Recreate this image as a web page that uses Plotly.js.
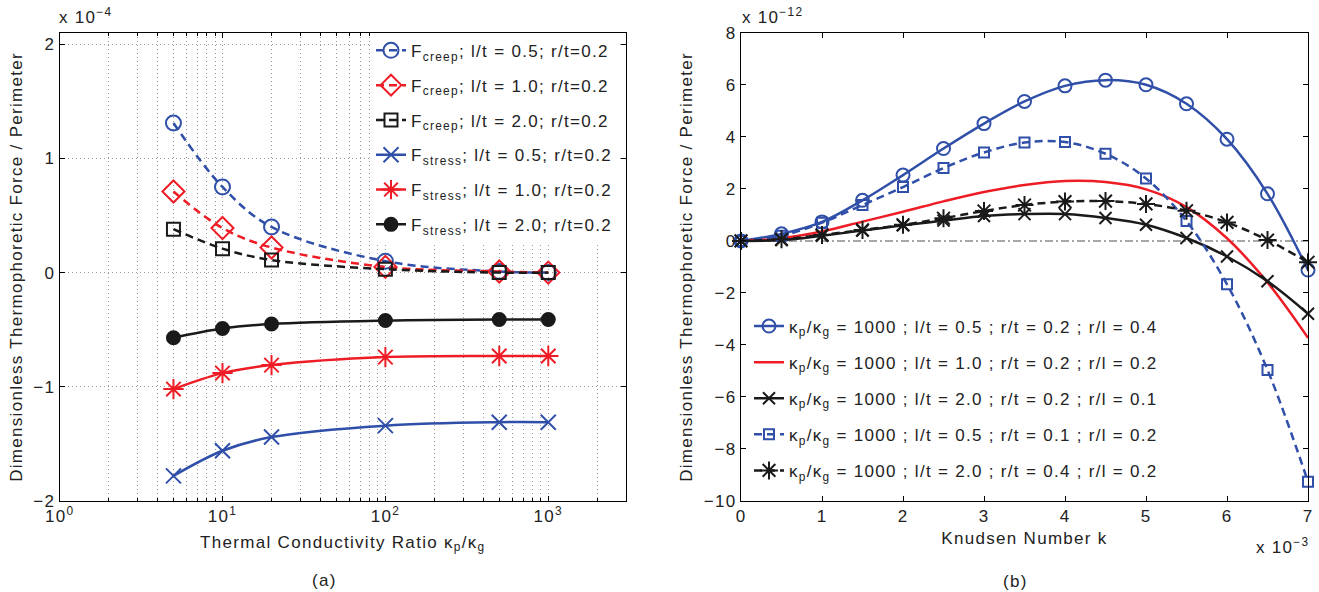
<!DOCTYPE html>
<html>
<head>
<meta charset="utf-8">
<script src="https://cdn.plot.ly/plotly-3.0.1.min.js"></script>
<style>
html,body{margin:0;padding:0;background:#fff;}
#chart{width:1319px;height:592px;}
text{letter-spacing:1.3px;}
</style>
</head>
<body>
<div id="chart"></div>
<script>
// ---------- Panel (a) data (values x 1e-4) ----------
const ratioX = [5, 10, 20, 100, 500, 1000];
const creepLt05 = [1.31, 0.75, 0.40, 0.10, 0.01, 0.00];
const creepLt10 = [0.71, 0.39, 0.22, 0.05, 0.01, 0.00];
const creepLt20 = [0.38, 0.21, 0.11, 0.03, 0.00, 0.00];
const stressLt05 = [-1.78, -1.56, -1.44, -1.34, -1.31, -1.31];
const stressLt10 = [-1.02, -0.88, -0.81, -0.74, -0.73, -0.73];
const stressLt20 = [-0.57, -0.49, -0.45, -0.42, -0.41, -0.41];
const logTickVals = [1, 10, 100, 1000];
const logTickText = ['10<sup>0</sup>', '10<sup>1</sup>', '10<sup>2</sup>', '10<sup>3</sup>'];
const logMinorVals = [2,3,4,5,6,7,8,9,20,30,40,50,60,70,80,90,200,300,400,500,600,700,800,900,2000];

// ---------- Panel (b) data (k x 1e-3, values x 1e-12) ----------
const knudsenX = [0, 0.5, 1, 1.5, 2, 2.5, 3, 3.5, 4, 4.5, 5, 5.5, 6, 6.5, 7];
const b_lt05_rt02 = [0, 0.27, 0.73, 1.56, 2.53, 3.55, 4.51, 5.36, 5.96, 6.18, 6.0, 5.27, 3.91, 1.81, -1.12];
const b_lt10_rt02 = [0, 0.1, 0.36, 0.74, 1.12, 1.52, 1.88, 2.15, 2.3, 2.26, 1.98, 1.3, 0.1, -1.6, -3.73];
const b_lt20_rt02 = [0, 0.03, 0.2, 0.4, 0.6, 0.78, 0.96, 1.03, 1.03, 0.88, 0.62, 0.11, -0.6, -1.55, -2.8];
const b_lt05_rt01 = [0, 0.2, 0.7, 1.38, 2.07, 2.8, 3.4, 3.78, 3.8, 3.35, 2.4, 0.76, -1.67, -4.96, -9.26];
const b_lt20_rt04 = [0, 0.06, 0.23, 0.42, 0.62, 0.87, 1.15, 1.38, 1.51, 1.53, 1.42, 1.16, 0.71, 0.03, -0.82];
const zeroRefX = [0, 7];
const zeroRefY = [0, 0];

const legendA = [
  'F<sub>creep</sub>; l/t = 0.5; r/t=0.2',
  'F<sub>creep</sub>; l/t = 1.0; r/t=0.2',
  'F<sub>creep</sub>; l/t = 2.0; r/t=0.2',
  'F<sub>stress</sub>; l/t = 0.5; r/t=0.2',
  'F<sub>stress</sub>; l/t = 1.0; r/t=0.2',
  'F<sub>stress</sub>; l/t = 2.0; r/t=0.2'
];
const legendB = [
  'κ<sub>p</sub>/κ<sub>g</sub> = 1000 ; l/t = 0.5 ; r/t = 0.2 ; r/l = 0.4',
  'κ<sub>p</sub>/κ<sub>g</sub> = 1000 ; l/t = 1.0 ; r/t = 0.2 ; r/l = 0.2',
  'κ<sub>p</sub>/κ<sub>g</sub> = 1000 ; l/t = 2.0 ; r/t = 0.2 ; r/l = 0.1',
  'κ<sub>p</sub>/κ<sub>g</sub> = 1000 ; l/t = 0.5 ; r/t = 0.1 ; r/l = 0.2',
  'κ<sub>p</sub>/κ<sub>g</sub> = 1000 ; l/t = 2.0 ; r/t = 0.4 ; r/l = 0.2'
];

const BLUE = '#2f4fa8';
const RED = '#ee1c25';
const BLACK = '#1a1a1a';
const DASH = '8px,5px';
const FONT = 'Liberation Sans, Arial, Helvetica, sans-serif';
const FS = 17;
const LW = 2.5;

function tr(x, y, name, color, dash, symbol, size, shape, xa, ya, legend, group) {
  const t = {
    x: x, y: y, name: name, type: 'scatter',
    mode: symbol ? 'lines+markers' : 'lines',
    xaxis: xa, yaxis: ya, legend: legend, legendgroup: group,
    cliponaxis: false,
    line: {color: color, width: LW, dash: dash, shape: shape, smoothing: 1}
  };
  if (symbol) {
    t.marker = {symbol: symbol, size: size, color: color, line: {color: color, width: 2}};
  }
  return t;
}

const traces = [
  tr(ratioX, creepLt05, legendA[0], BLUE, DASH, 'circle-open', 15, 'spline', 'x', 'y', 'legend', 'a1'),
  tr(ratioX, creepLt10, legendA[1], RED, DASH, 'diamond-open', 17, 'spline', 'x', 'y', 'legend', 'a2'),
  tr(ratioX, creepLt20, legendA[2], BLACK, DASH, 'square-open', 13, 'spline', 'x', 'y', 'legend', 'a3'),
  tr(ratioX, stressLt05, legendA[3], BLUE, 'solid', 'x-thin-open', 15, 'spline', 'x', 'y', 'legend', 'a4'),
  tr(ratioX, stressLt10, legendA[4], RED, 'solid', 'asterisk-open', 17, 'spline', 'x', 'y', 'legend', 'a5'),
  tr(ratioX, stressLt20, legendA[5], BLACK, 'solid', 'circle', 13, 'spline', 'x', 'y', 'legend', 'a6'),
  {x: zeroRefX, y: zeroRefY, type: 'scatter', mode: 'lines', xaxis: 'x2', yaxis: 'y2', showlegend: false,
   hoverinfo: 'skip', line: {color: '#8a8a8a', width: 1.5, dash: '8px,3px,2px,3px'}},
  tr(knudsenX, b_lt05_rt02, legendB[0], BLUE, 'solid', 'circle-open', 13, 'spline', 'x2', 'y2', 'legend2', 'b1'),
  tr(knudsenX, b_lt10_rt02, legendB[1], RED, 'solid', null, 0, 'spline', 'x2', 'y2', 'legend2', 'b2'),
  tr(knudsenX, b_lt20_rt02, legendB[2], BLACK, 'solid', 'x-thin-open', 12, 'spline', 'x2', 'y2', 'legend2', 'b3'),
  tr(knudsenX, b_lt05_rt01, legendB[3], BLUE, DASH, 'square-open', 10, 'spline', 'x2', 'y2', 'legend2', 'b4'),
  tr(knudsenX, b_lt20_rt04, legendB[4], BLACK, DASH, 'asterisk-open', 15, 'spline', 'x2', 'y2', 'legend2', 'b5')
];

const W = 1319, H = 592;
const px = v => v / W;
const py = v => 1 - v / H;
const txtFont = {family: FONT, size: FS, color: '#222'};

const axisCommon = {
  showline: true, linecolor: '#000', linewidth: 1, mirror: 'ticks',
  ticks: 'inside', ticklen: 5, tickcolor: '#000', tickwidth: 1,
  tickfont: txtFont, zeroline: false, automargin: false
};

const layout = {
  width: W, height: H,
  margin: {l: 0, r: 0, t: 0, b: 0, pad: 0},
  paper_bgcolor: '#fff', plot_bgcolor: '#fff',
  font: txtFont,
  showlegend: true,
  xaxis: Object.assign({}, axisCommon, {
    domain: [px(59.6), px(626)], anchor: 'y', type: 'log',
    range: [0, Math.log10(3000)],
    tickmode: 'array', tickvals: logTickVals, ticktext: logTickText,
    showgrid: true, gridcolor: '#9a9a9a', gridwidth: 1, griddash: '1px,3px',
    minor: {tickmode: 'array', tickvals: logMinorVals, ticks: 'inside', ticklen: 3, tickcolor: '#000',
            showgrid: true, gridcolor: '#9a9a9a', gridwidth: 1, griddash: '1px,3px'},
    title: {text: 'Thermal Conductivity Ratio κ<sub>p</sub>/κ<sub>g</sub>', font: txtFont, standoff: 10}
  }),
  yaxis: Object.assign({}, axisCommon, {
    domain: [py(501), py(32.8)], anchor: 'x',
    range: [-2, 2.1], tickmode: 'linear', tick0: 0, dtick: 1,
    showgrid: true, gridcolor: '#9a9a9a', gridwidth: 1, griddash: '1px,3px',
    title: {text: 'Dimensionless Thermophoretic Force / Perimeter', font: txtFont, standoff: 6}
  }),
  xaxis2: Object.assign({}, axisCommon, {
    domain: [px(741), px(1308)], anchor: 'y2',
    range: [0, 7], tickmode: 'linear', tick0: 0, dtick: 1, showgrid: false,
    title: {text: 'Knudsen Number k', font: txtFont, standoff: 6}
  }),
  yaxis2: Object.assign({}, axisCommon, {
    domain: [py(501), py(32.8)], anchor: 'x2',
    range: [-10, 8], tickmode: 'linear', tick0: 0, dtick: 2, showgrid: false,
    title: {text: 'Dimensionless Thermophoretic Force / Perimeter', font: txtFont, standoff: 6}
  }),
  legend: {
    x: px(371), y: py(32.8), xanchor: 'left', yanchor: 'top',
    bgcolor: '#fff', borderwidth: 0, tracegroupgap: 9.7,
    font: txtFont, itemwidth: 30
  },
  legend2: {
    x: px(749), y: py(308.5), xanchor: 'left', yanchor: 'top',
    bgcolor: 'rgba(0,0,0,0)', borderwidth: 0, tracegroupgap: 11,
    font: txtFont, itemwidth: 30
  },
  annotations: [
    {text: 'x 10<sup>−4</sup>', x: px(57), y: py(29), xref: 'paper', yref: 'paper',
     xanchor: 'left', yanchor: 'bottom', showarrow: false, font: txtFont},
    {text: 'x 10<sup>−12</sup>', x: px(740), y: py(29), xref: 'paper', yref: 'paper',
     xanchor: 'left', yanchor: 'bottom', showarrow: false, font: txtFont},
    {text: 'x 10<sup>−3</sup>', x: px(1312), y: py(546), xref: 'paper', yref: 'paper',
     xanchor: 'right', yanchor: 'middle', showarrow: false, font: txtFont},
    {text: '(a)', x: px(324), y: py(580), xref: 'paper', yref: 'paper',
     xanchor: 'center', yanchor: 'middle', showarrow: false, font: txtFont},
    {text: '(b)', x: px(1015), y: py(581), xref: 'paper', yref: 'paper',
     xanchor: 'center', yanchor: 'middle', showarrow: false, font: txtFont}
  ]
};

Plotly.newPlot('chart', traces, layout, {staticPlot: true, displayModeBar: false});
</script>
</body>
</html>
